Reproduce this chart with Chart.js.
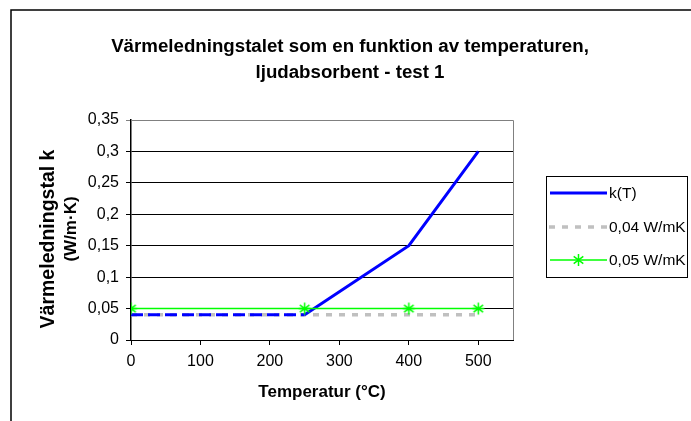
<!DOCTYPE html>
<html>
<head>
<meta charset="utf-8">
<script src="https://cdn.jsdelivr.net/npm/chart.js@4/dist/chart.umd.min.js"></script>
<style>
  html, body { margin: 0; padding: 0; background: #fff; }
  canvas { display: block; }
</style>
</head>
<body>
<canvas id="c" width="691" height="421"></canvas>
<script>
// Thermal conductivity k(T) for the sound absorber, test 1
const temperatures = [0, 250, 400, 500];
const kValues = [0.04, 0.04, 0.15, 0.3];
const ref004 = [0.04, 0.04, 0.04, 0.04];
const ref005 = [0.05, 0.05, 0.05, 0.05];
const xTickValues = [0, 100, 200, 300, 400, 500];
const yTickValues = [0, 0.05, 0.1, 0.15, 0.2, 0.25, 0.3, 0.35];
const seriesNames = ['k(T)', '0,04 W/mK', '0,05 W/mK'];
const titleLines = ['Värmeledningstalet som en funktion av temperaturen,', 'ljudabsorbent - test 1'];
const xTitle = 'Temperatur (°C)';
const yTitleLines = ['Värmeledningstal k', '(W/m·K)'];

const FONT = "'Liberation Sans', Arial, sans-serif";
const BLUE = '#0000ff', GREY = '#c0c0c0', GREEN = '#00ff00';

const toPoints = (xs, ys) => xs.map((x, i) => ({ x, y: ys[i] }));
const fmt = v => String(+v.toFixed(2)).replace('.', ',');

const decor = {
  id: 'decor',
  beforeDatasetsDraw(chart) {
    const { ctx, chartArea: a } = chart;
    ctx.save();
    ctx.strokeStyle = '#808080';
    ctx.lineWidth = 1;
    ctx.beginPath();
    ctx.moveTo(a.left, a.top + 0.5);
    ctx.lineTo(a.right + 0.5, a.top + 0.5);
    ctx.lineTo(a.right + 0.5, a.bottom);
    ctx.stroke();
    ctx.restore();
  },
  afterDraw(chart) {
    const { ctx, chartArea: a } = chart;
    ctx.save();
    // outer frame
    ctx.strokeStyle = '#000';
    ctx.lineWidth = 1.5;
    ctx.strokeRect(11, 10, 760, 500);

    // chart title
    ctx.fillStyle = '#000';
    ctx.textAlign = 'center';
    ctx.textBaseline = 'middle';
    ctx.font = 'bold 18.7px ' + FONT;
    ctx.fillText(titleLines[0], 350, 47);
    ctx.fillText(titleLines[1], 350, 73);

    // axis titles
    ctx.font = 'bold 17px ' + FONT;
    ctx.fillText(xTitle, (a.left + a.right) / 2, 392);
    ctx.save();
    ctx.rotate(-Math.PI / 2);
    ctx.font = 'bold 19.5px ' + FONT;
    ctx.fillText(yTitleLines[0], -239, 49);
    ctx.font = 'bold 17px ' + FONT;
    ctx.fillText(yTitleLines[1], -229, 71);
    ctx.restore();

    // legend
    ctx.strokeStyle = '#000';
    ctx.lineWidth = 1;
    ctx.strokeRect(546.5, 176.5, 141, 101);
    const rows = [193, 227, 260];
    const x0 = 550, x1 = 607;
    ctx.lineCap = 'butt';
    // k(T)
    ctx.strokeStyle = BLUE; ctx.lineWidth = 3; ctx.setLineDash([]);
    ctx.beginPath(); ctx.moveTo(x0, rows[0]); ctx.lineTo(x1, rows[0]); ctx.stroke();
    // 0,04
    ctx.strokeStyle = GREY; ctx.lineWidth = 3.5; ctx.setLineDash([6, 7]);
    ctx.beginPath(); ctx.moveTo(x0 - 1, rows[1]); ctx.lineTo(x1, rows[1]); ctx.stroke();
    // 0,05
    ctx.setLineDash([]);
    ctx.strokeStyle = GREEN; ctx.lineWidth = 1.5;
    ctx.beginPath(); ctx.moveTo(x0, rows[2]); ctx.lineTo(x1, rows[2]); ctx.stroke();
    const cx = (x0 + x1) / 2, r = 6;
    ctx.beginPath();
    ctx.moveTo(cx, rows[2] - r); ctx.lineTo(cx, rows[2] + r);
    ctx.moveTo(cx - r * 0.8, rows[2] - r * 0.6); ctx.lineTo(cx + r * 0.8, rows[2] + r * 0.6);
    ctx.moveTo(cx - r * 0.8, rows[2] + r * 0.6); ctx.lineTo(cx + r * 0.8, rows[2] - r * 0.6);
    ctx.stroke();

    ctx.fillStyle = '#000';
    ctx.textAlign = 'left';
    ctx.font = '15.5px ' + FONT;
    rows.forEach((y, i) => ctx.fillText(seriesNames[i], 609, y + 1));
    ctx.restore();
  }
};

// Excel-style asterisk marker
const star = document.createElement('canvas');
star.width = 15; star.height = 15;
(() => {
  const g = star.getContext('2d');
  g.strokeStyle = GREEN; g.lineWidth = 1.5;
  const c = 7.5, r = 6;
  g.beginPath();
  g.moveTo(c, c - r); g.lineTo(c, c + r);
  g.moveTo(c - r * 0.8, c - r * 0.6); g.lineTo(c + r * 0.8, c + r * 0.6);
  g.moveTo(c - r * 0.8, c + r * 0.6); g.lineTo(c + r * 0.8, c - r * 0.6);
  g.moveTo(c - r, c); g.lineTo(c + r, c);
  g.stroke();
})();

new Chart(document.getElementById('c'), {
  type: 'line',
  data: {
    datasets: [
      {
        label: seriesNames[0],
        data: toPoints(temperatures, kValues),
        borderColor: BLUE,
        borderWidth: 3,
        pointRadius: 0,
        order: 1,
        segment: {
          borderDash: ctx => ctx.p0DataIndex === 0 ? [12, 5] : undefined
        }
      },
      {
        label: seriesNames[1],
        data: toPoints(temperatures, ref004),
        borderColor: GREY,
        borderWidth: 3.5,
        borderDash: [6, 7],
        pointRadius: 0,
        order: 2
      },
      {
        label: seriesNames[2],
        data: toPoints(temperatures, ref005),
        borderColor: GREEN,
        borderWidth: 1.5,
        pointStyle: star,
        pointRadius: 6,
        order: 0
      }
    ]
  },
  options: {
    responsive: false,
    animation: false,
    layout: { padding: { top: 120, right: 178, left: 0, bottom: 0 } },
    plugins: { legend: { display: false }, tooltip: { enabled: false }, title: { display: false } },
    scales: {
      x: {
        type: 'linear',
        min: 0,
        max: 550,
        afterBuildTicks: s => { s.ticks = xTickValues.map(v => ({ value: v })); },
        afterFit: s => { s.height = 81; },
        ticks: {
          color: '#000',
          font: { family: FONT, size: 16 },
          padding: 7,
          maxRotation: 0,
          callback: v => String(v)
        },
        grid: { drawOnChartArea: false, drawTicks: true, tickLength: 5, color: '#000' },
        border: { color: '#000', width: 1 }
      },
      y: {
        min: 0,
        max: 0.35,
        afterBuildTicks: s => { s.ticks = yTickValues.map(v => ({ value: v })); },
        afterFit: s => { s.width = 131; },
        ticks: {
          color: '#000',
          font: { family: FONT, size: 16 },
          padding: 7,
          callback: v => fmt(v)
        },
        grid: {
          color: ctx => (ctx.tick && ctx.tick.value === 0.35) ? '#808080' : '#000',
          tickLength: 5,
          drawTicks: true
        },
        border: { color: '#000', width: 1.5 }
      }
    }
  },
  plugins: [decor]
});
</script>
</body>
</html>
